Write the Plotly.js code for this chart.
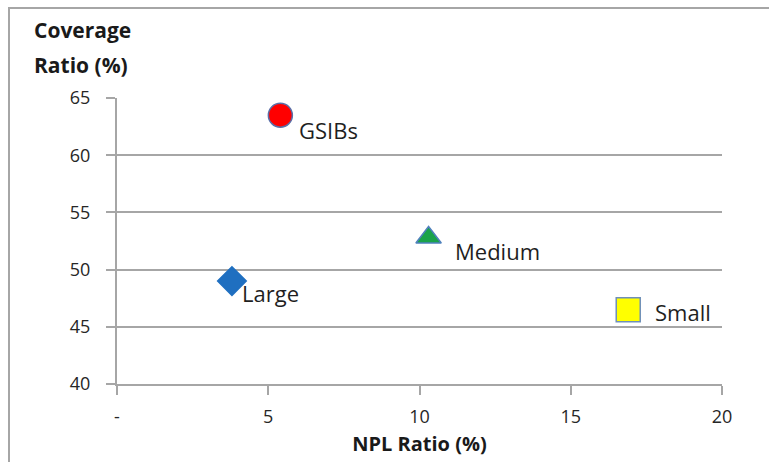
<!DOCTYPE html>
<html>
<head>
<meta charset="utf-8">
<script src="https://cdn.plot.ly/plotly-3.0.1.min.js"></script>
<style>
html,body{margin:0;padding:0;background:#fff;}
#wrap{position:relative;width:769px;height:462px;}
#chart{width:769px;height:462px;}
#frame{position:absolute;left:8px;top:7px;width:761px;height:455px;border-top:2px solid #a6a6a6;border-left:2px solid #a6a6a6;pointer-events:none;}
</style>
</head>
<body>
<div id="wrap"><div id="chart"></div><div id="frame"></div></div>
<script>
const groups = ["GSIBs", "Large", "Medium", "Small"];
const nplRatio = [5.4, 3.8, 10.3, 16.9];
const coverageRatio = [63.5, 49.0, 52.8, 46.5];
const markerSymbols = ["circle", "diamond", "triangle-up", "square"];
const markerColors = ["#ff0000", "#1f6fc0", "#1aa34a", "#ffff00"];
const markerLines = ["#5a6fa8", "#1f6fc0", "#4f81bd", "#6f8fb8"];
const markerSizes = [24, 22, 22, 24];
const labelShift = [[17, -15], [8, -12], [24, -13], [25, -2]];
const xTickVals = [0, 5, 10, 15, 20];
const xTickText = ["-", "5", "10", "15", "20"];
const yTickVals = [40, 45, 50, 55, 60, 65];

const font = "'Open Sans', sans-serif";

const traces = groups.map((g, i) => ({
  type: "scatter",
  mode: "markers",
  x: [nplRatio[i]],
  y: [coverageRatio[i]],
  name: g,
  marker: {symbol: markerSymbols[i], color: markerColors[i], size: markerSizes[i],
           line: {color: markerLines[i], width: 1.5}},
  hoverinfo: "skip"
}));

const annotations = groups.map((g, i) => ({
  x: nplRatio[i], y: coverageRatio[i], xref: "x", yref: "y",
  text: g, showarrow: false, xanchor: "left", yanchor: "middle",
  xshift: labelShift[i][0], yshift: labelShift[i][1],
  font: {family: font, size: 22, color: "#1f1f1f"}
}));
annotations.push({
  xref: "paper", yref: "paper", x: -0.14, y: 1.238, xanchor: "left", yanchor: "middle",
  showarrow: false, text: "<b>Coverage</b>",
  font: {family: font, size: 21, color: "#1a1a1a"}
});
annotations.push({
  xref: "paper", yref: "paper", x: -0.14, y: 1.115, xanchor: "left", yanchor: "middle",
  showarrow: false, text: "<b>Ratio (%)</b>",
  font: {family: font, size: 21, color: "#1a1a1a"}
});

const layout = {
  width: 769, height: 462,
  margin: {l: 117, r: 47, t: 98, b: 78},
  paper_bgcolor: "#fff", plot_bgcolor: "#fff",
  showlegend: false,
  font: {family: font, size: 18, color: "#262626"},
  xaxis: {
    range: [0, 20], tickvals: xTickVals, ticktext: xTickText,
    showgrid: false, zeroline: false, showline: true, linecolor: "#a6a6a6", linewidth: 2,
    ticks: "outside", ticklen: 9, tickwidth: 2, tickcolor: "#a6a6a6",
    ticklabelstandoff: 6,
    tickfont: {family: font, size: 18, color: "#262626"},
    title: {text: "<b>NPL Ratio (%)</b>", font: {family: font, size: 20, color: "#1a1a1a"}, standoff: 10}
  },
  yaxis: {
    range: [40, 65], tickvals: yTickVals,
    showgrid: true, gridcolor: "#a6a6a6", gridwidth: 2, zeroline: false,
    showline: true, linecolor: "#a6a6a6", linewidth: 2,
    ticks: "outside", ticklen: 9, tickwidth: 2, tickcolor: "#a6a6a6",
    ticklabelstandoff: 12,
    tickfont: {family: font, size: 18, color: "#262626"}
  },
  annotations: annotations
};

Plotly.newPlot("chart", traces, layout, {displayModeBar: false, staticPlot: true});
</script>
</body>
</html>
